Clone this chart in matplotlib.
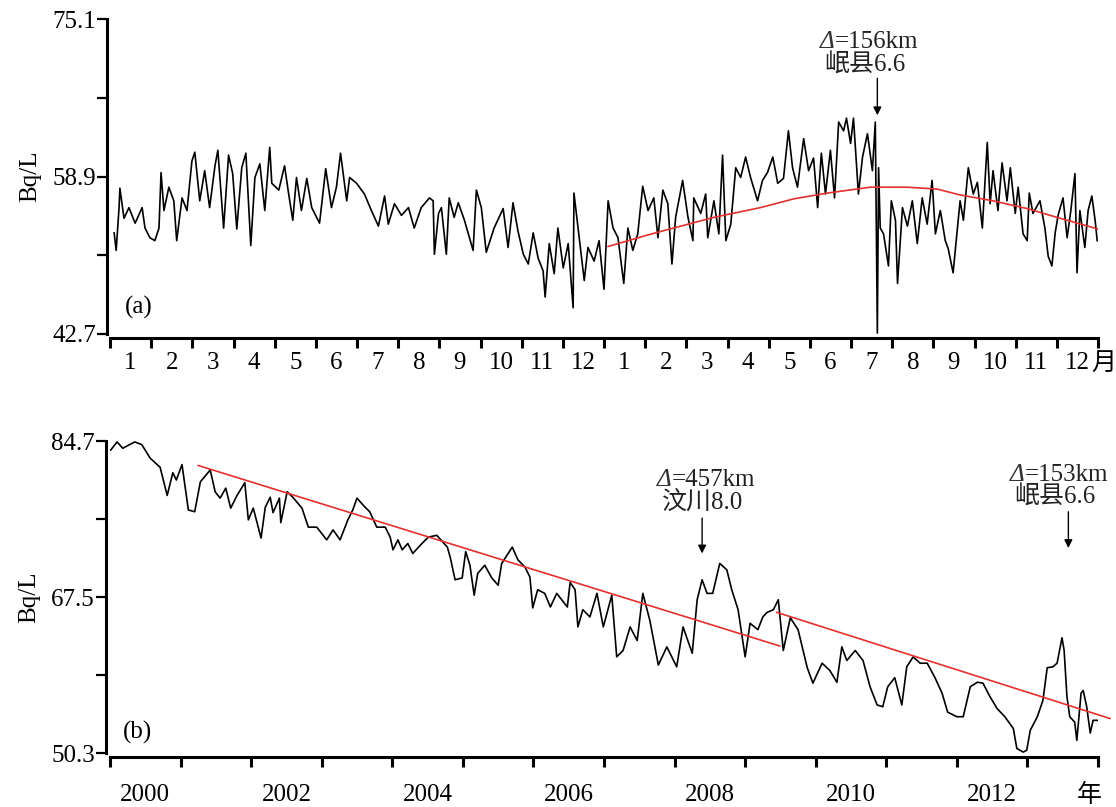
import matplotlib
matplotlib.use('Agg')
import matplotlib.pyplot as plt

plt.rcParams['font.family'] = ['Liberation Serif', 'Noto Sans CJK SC']

# (a) 2012-01 .. 2013-12, x in months from 2012-01-01
month_a = [0.10, 0.15, 0.22, 0.24, 0.34, 0.46, 0.61, 0.78, 0.85, 0.97,
           1.09, 1.19, 1.24, 1.31, 1.43, 1.55, 1.62, 1.75, 1.87, 1.99,
           2.06, 2.18, 2.30, 2.42, 2.55, 2.62, 2.76, 2.88, 2.98, 3.08,
           3.20, 3.30, 3.42, 3.52, 3.64, 3.76, 3.88, 3.93, 4.10, 4.24,
           4.34, 4.44, 4.53, 4.65, 4.78, 4.90, 5.09, 5.24, 5.38, 5.50,
           5.60, 5.75, 5.82, 5.99, 6.18, 6.35, 6.52, 6.67, 6.76, 6.91,
           7.08, 7.25, 7.39, 7.56, 7.76, 7.85, 7.88, 7.98, 8.05, 8.17,
           8.24, 8.36, 8.46, 8.61, 8.82, 8.90, 9.02, 9.14, 9.33, 9.55,
           9.67, 9.79, 9.91, 10.04, 10.16, 10.28, 10.40, 10.52, 10.57, 10.67,
           10.79, 10.88, 11.01, 11.13, 11.25, 11.27, 11.37, 11.52, 11.61, 11.76,
           11.88, 12.00, 12.10, 12.22, 12.34, 12.48, 12.58, 12.70, 12.82, 12.94,
           13.07, 13.21, 13.31, 13.43, 13.55, 13.65, 13.74, 13.91, 14.04, 14.16,
           14.18, 14.35, 14.47, 14.52, 14.67, 14.79, 14.88, 14.96, 15.08, 15.20,
           15.32, 15.44, 15.56, 15.73, 15.85, 15.97, 16.10, 16.22, 16.36, 16.48,
           16.58, 16.70, 16.85, 16.97, 17.09, 17.19, 17.28, 17.38, 17.50, 17.60,
           17.70, 17.82, 17.89, 17.99, 18.06, 18.18, 18.28, 18.40, 18.52, 18.59,
           18.64, 18.67, 18.71, 18.79, 18.91, 18.98, 19.08, 19.13, 19.25, 19.37,
           19.49, 19.61, 19.73, 19.85, 19.97, 20.05, 20.17, 20.29, 20.36, 20.48,
           20.58, 20.65, 20.73, 20.85, 20.97, 21.07, 21.19, 21.31, 21.38, 21.45,
           21.57, 21.67, 21.79, 21.87, 21.99, 22.06, 22.18, 22.28, 22.33, 22.42,
           22.59, 22.71, 22.79, 22.88, 22.96, 23.03, 23.15, 23.25, 23.34, 23.44,
           23.49, 23.56, 23.68, 23.76, 23.85, 23.93, 23.98]
value_a = [53.1, 51.3, 55.7, 57.7, 54.6, 55.7, 54.1, 55.7, 53.6, 52.6,
           52.3, 53.6, 59.3, 55.4, 57.8, 56.4, 52.3, 56.7, 55.4, 60.5,
           61.4, 56.4, 59.5, 55.7, 60.0, 61.6, 53.6, 61.1, 59.2, 53.5,
           59.8, 61.3, 51.8, 58.8, 60.2, 55.4, 61.9, 58.2, 57.5, 60.0,
           57.1, 54.4, 58.8, 55.4, 58.7, 55.7, 54.1, 59.7, 55.7, 57.8,
           61.3, 56.4, 58.8, 58.2, 57.1, 55.4, 53.8, 56.9, 54.0, 56.1,
           54.9, 55.7, 53.6, 55.7, 56.7, 56.4, 50.9, 55.1, 55.7, 50.9,
           56.7, 54.7, 56.2, 54.4, 51.3, 57.5, 55.7, 51.1, 53.6, 55.6,
           51.6, 56.2, 53.3, 50.9, 49.9, 53.1, 50.5, 49.2, 46.5, 52.0,
           48.9, 53.6, 49.5, 52.0, 45.4, 57.2, 53.6, 48.2, 51.6, 50.2,
           52.3, 47.3, 56.4, 53.6, 52.6, 47.9, 53.6, 51.3, 53.0, 57.9,
           55.4, 56.7, 52.6, 57.5, 56.1, 49.9, 54.7, 58.5, 54.7, 52.3,
           56.7, 55.1, 57.1, 52.6, 56.4, 53.0, 61.1, 52.3, 54.0, 59.8,
           58.8, 60.9, 58.8, 56.4, 58.5, 59.3, 60.9, 58.2, 58.7, 63.6,
           59.8, 57.8, 62.8, 59.5, 60.8, 55.7, 61.3, 57.1, 61.6, 56.7,
           64.5, 63.6, 64.9, 62.3, 64.9, 57.1, 60.9, 63.3, 59.5, 64.5,
           42.8, 59.8, 53.6, 53.0, 49.7, 56.4, 54.4, 47.9, 55.7, 53.8,
           56.4, 52.0, 56.7, 54.0, 58.5, 53.0, 55.4, 52.3, 51.5, 49.0,
           53.3, 56.4, 54.4, 59.8, 57.1, 58.3, 53.6, 62.4, 56.1, 59.5,
           55.4, 60.3, 56.4, 59.8, 55.1, 57.8, 53.0, 52.3, 57.2, 55.1,
           56.4, 53.6, 50.7, 49.7, 53.1, 54.9, 56.7, 52.6, 55.4, 59.2,
           49.0, 55.4, 51.6, 55.4, 56.9, 54.4, 52.3]
fit_month_a = [12.10, 13.16, 14.67, 15.80, 16.61, 17.43, 18.47, 19.37,
               20.10, 20.65, 21.45, 22.28, 23.08, 24.0]
fit_value_a = [51.7, 53.0, 54.7, 55.7, 56.6, 57.2, 57.8, 57.8,
               57.6, 57.0, 56.4, 55.6, 54.6, 53.5]

# (b) 2000 .. 2013
year_b = [2000.01, 2000.10, 2000.18, 2000.35, 2000.45, 2000.57, 2000.64, 2000.71, 2000.81, 2000.89,
          2000.94, 2001.02, 2001.11, 2001.20, 2001.28, 2001.42, 2001.49, 2001.56, 2001.64, 2001.71,
          2001.80, 2001.91, 2001.96, 2002.03, 2002.14, 2002.20, 2002.27, 2002.31, 2002.40, 2002.42,
          2002.51, 2002.59, 2002.72, 2002.81, 2002.93, 2003.07, 2003.16, 2003.26, 2003.37, 2003.44,
          2003.50, 2003.59, 2003.68, 2003.78, 2003.90, 2003.97, 2004.01, 2004.08, 2004.14, 2004.22,
          2004.29, 2004.42, 2004.51, 2004.63, 2004.78, 2004.82, 2004.89, 2004.99, 2005.04, 2005.10,
          2005.16, 2005.21, 2005.31, 2005.41, 2005.50, 2005.55, 2005.70, 2005.78, 2005.88, 2005.95,
          2005.99, 2006.06, 2006.16, 2006.24, 2006.33, 2006.48, 2006.52, 2006.59, 2006.63, 2006.70,
          2006.80, 2006.90, 2006.99, 2007.11, 2007.18, 2007.27, 2007.37, 2007.47, 2007.55, 2007.65,
          2007.77, 2007.89, 2008.03, 2008.12, 2008.25, 2008.32, 2008.39, 2008.46, 2008.54, 2008.64,
          2008.74, 2008.81, 2008.90, 2009.00, 2009.07, 2009.18, 2009.25, 2009.31, 2009.40, 2009.47,
          2009.54, 2009.64, 2009.75, 2009.88, 2009.96, 2010.09, 2010.20, 2010.30, 2010.37, 2010.44,
          2010.56, 2010.67, 2010.77, 2010.87, 2010.95, 2011.02, 2011.12, 2011.22, 2011.29, 2011.38,
          2011.48, 2011.58, 2011.69, 2011.79, 2011.87, 2012.00, 2012.09, 2012.19, 2012.29, 2012.37,
          2012.47, 2012.57, 2012.68, 2012.80, 2012.85, 2012.94, 2012.99, 2013.04, 2013.14, 2013.22,
          2013.28, 2013.36, 2013.42, 2013.49, 2013.52, 2013.56, 2013.60, 2013.67, 2013.70, 2013.76,
          2013.79, 2013.84, 2013.89, 2013.93, 2013.99]
value_b = [83.7, 84.6, 83.9, 84.6, 84.3, 82.8, 82.3, 81.8, 78.7, 81.2,
           80.4, 82.1, 77.1, 76.9, 80.2, 81.5, 79.1, 78.4, 79.5, 77.3,
           78.7, 80.1, 76.0, 77.3, 74.0, 77.4, 78.5, 76.8, 78.4, 75.7,
           79.1, 78.5, 77.3, 75.2, 75.2, 73.8, 74.9, 73.8, 76.0, 77.1,
           78.4, 77.6, 76.9, 75.2, 75.2, 74.1, 72.7, 73.8, 72.7, 73.4,
           72.3, 73.4, 74.1, 74.3, 73.0, 71.9, 69.4, 69.6, 72.5, 71.0,
           67.7, 70.1, 71.0, 69.6, 68.8, 71.2, 73.0, 71.6, 70.8, 69.7,
           66.3, 68.3, 67.9, 66.4, 67.9, 66.4, 69.1, 68.3, 64.2, 66.1,
           65.3, 67.9, 64.2, 67.7, 60.9, 61.6, 64.2, 62.7, 67.9, 64.9,
           60.0, 62.0, 59.8, 64.2, 61.3, 67.2, 69.4, 67.9, 67.9, 71.2,
           70.5, 68.3, 66.1, 60.9, 64.6, 63.9, 65.3, 65.8, 66.1, 67.2,
           61.6, 65.2, 63.9, 59.7, 58.0, 60.2, 59.4, 58.1, 62.0, 60.5,
           61.6, 60.5, 57.6, 55.6, 55.4, 57.6, 58.6, 55.6, 59.8, 60.9,
           60.2, 60.2, 58.6, 56.9, 54.8, 54.3, 54.3, 57.6, 58.1, 58.0,
           56.5, 55.2, 54.3, 53.0, 50.8, 50.4, 50.6, 52.8, 54.3, 56.1,
           59.7, 59.8, 60.2, 63.0, 61.6, 56.5, 54.3, 53.7, 51.7, 56.9,
           57.2, 55.4, 52.5, 53.9, 53.9]
trend1_year = [2001.25, 2009.49]
trend1_value = [82.0, 62.1]
trend2_year = [2009.45, 2014.17]
trend2_value = [65.8, 54.1]

month_labels = [str(m) for m in range(1, 13)] * 2
year_labels = ['2000', '', '2002', '', '2004', '', '2006', '', '2008', '',
               '2010', '', '2012', '']
yticks_a = [42.7, 50.8, 58.9, 67.0, 75.1]
ylabels_a = ['42.7', '', '58.9', '', '75.1']
yticks_b = [50.3, 58.9, 67.5, 76.1, 84.7]
ylabels_b = ['50.3', '', '67.5', '', '84.7']

RED = '#e5302f'
FS = 18

fig = plt.figure(figsize=(11.16, 8.07), dpi=100)
ax1 = fig.add_axes([107 / 1116, 1 - 334 / 807, 991 / 1116, 315 / 807])
ax2 = fig.add_axes([106 / 1116, 1 - 753 / 807, 992 / 1116, 312 / 807])


def style(ax):
    for s in ['top', 'right']:
        ax.spines[s].set_visible(False)
    ax.spines['left'].set_linewidth(2.2)
    ax.spines['bottom'].set_linewidth(2.2)
    ax.spines['bottom'].set_position(('outward', 3))
    ax.tick_params(axis='y', which='major', length=7, width=1.6,
                   labelsize=FS, pad=1)
    ax.tick_params(axis='x', which='major', length=7, width=2.2,
                   labelbottom=False)


def event(ax, x, y_tip, y_tail, xt, y1, y2, dist, place, dx):
    # arrow + two-line label; italic delta set apart from the rest
    ax.annotate('', xy=(x, y_tip), xytext=(x, y_tail),
                arrowprops=dict(arrowstyle='-|>', color='black', lw=1.0,
                                mutation_scale=12, shrinkA=0, shrinkB=0))
    ax.text(xt - dx, y1, 'Δ', fontsize=FS, style='italic', ha='right',
            va='center', color='#333333')
    ax.text(xt - dx, y1, '=' + dist, fontsize=FS, ha='left', va='center',
            color='#222222')
    ax.text(xt, y2, place, fontsize=FS, ha='center', va='center',
            color='#222222')


# --- (a)
ax1.plot(month_a, value_a, color='black', lw=1.2)
ax1.plot(fit_month_a, fit_value_a, color=RED, lw=1.2)
ax1.set_xlim(-0.073, 24)
ax1.set_ylim(42.7, 75.1)
style(ax1)
ax1.spines['bottom'].set_bounds(0, 24)
ax1.set_xticks(range(25))
ax1.set_xticks([m + 0.5 for m in range(24)], minor=True)
ax1.set_xticklabels(month_labels, minor=True)
ax1.tick_params(axis='x', which='minor', length=0, labelsize=FS, pad=10)
ax1.set_yticks(yticks_a)
ax1.set_yticklabels(ylabels_a)
ax1.set_ylabel('Bq/L', fontsize=FS, labelpad=8)
ax1.text(23.85, -0.095, '月', transform=ax1.get_xaxis_transform(),
         fontsize=FS, ha='left', va='center')
ax1.text(0.35, 45.4, '(a)', fontsize=FS, ha='left', va='center')
event(ax1, 18.64, 65.2, 69.0, 18.33, 72.7, 70.35, '156km', '岷县6.6', 0.72)

# --- (b)
ax2.plot(year_b, value_b, color='black', lw=1.2)
ax2.plot(trend1_year, trend1_value, color=RED, lw=1.2)
ax2.plot(trend2_year, trend2_value, color=RED, lw=1.2, clip_on=False)
ax2.set_xlim(1999.943, 2014)
ax2.set_ylim(50.3, 84.7)
style(ax2)
ax2.spines['bottom'].set_bounds(2000, 2014)
ax2.set_xticks(range(2000, 2015))
ax2.set_xticks([y + 0.5 for y in range(2000, 2014)], minor=True)
ax2.set_xticklabels(year_labels, minor=True)
ax2.tick_params(axis='x', which='minor', length=0, labelsize=FS, pad=19)
ax2.set_yticks(yticks_b)
ax2.set_yticklabels(ylabels_b)
ax2.set_ylabel('Bq/L', fontsize=FS, labelpad=8)
ax2.text(2013.87, -0.135, '年', transform=ax2.get_xaxis_transform(),
         fontsize=FS, ha='center', va='center')
ax2.text(2000.18, 52.6, '(b)', fontsize=FS, ha='left', va='center')

event(ax2, 2008.39, 72.3, 76.2, 2008.39, 80.4, 78.0, '457km', '汶川8.0', 0.43)
event(ax2, 2013.58, 72.9, 76.9, 2013.39, 81.0, 78.5, '153km', '岷县6.6', 0.43)

fig.savefig('out.png', dpi=100)
